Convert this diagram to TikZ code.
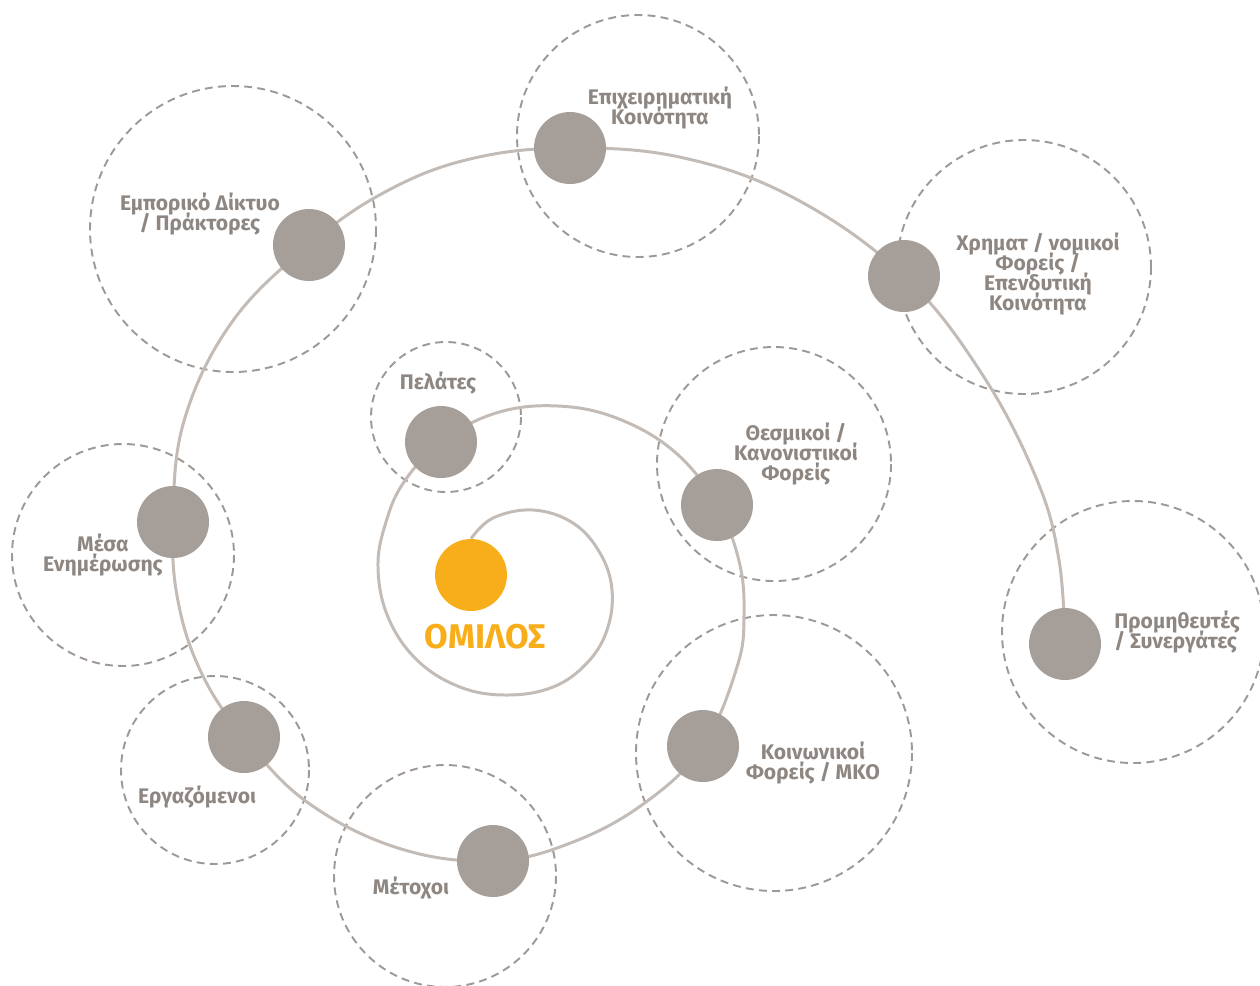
\documentclass[tikz,border=0pt]{standalone}
\usepackage{fontspec}
\setmainfont{Fira Sans}
\usetikzlibrary{positioning, backgrounds}

\definecolor{dotgray}{HTML}{A59E99}
\definecolor{linegray}{HTML}{C3BBB6}
\definecolor{zonegray}{HTML}{9F9995}
\definecolor{labelgray}{HTML}{8E8681}
\definecolor{groupyellow}{HTML}{F8AE1B}
\setlength{\lineskiplimit}{-6pt}

\begin{document}
\begin{tikzpicture}[x=0.02cm, y=-0.02cm,
    stake/.style={circle, fill=dotgray, minimum size=1.44cm, inner sep=0pt},
    core/.style={circle, fill=groupyellow, minimum size=1.44cm, inner sep=0pt},
    zone/.style={draw=zonegray, dash pattern=on 4.5pt off 3pt, line width=1.1pt},
    spiral/.style={draw=linegray, line width=1.7pt},
    tag/.style={text=labelgray, font=\bfseries\fontsize{12}{11.4}\selectfont, align=center, inner sep=0pt}
]
\useasboundingbox (0,0) rectangle (1260,985);

% Group (centre)
\node[core] (grp) at (471,575) {};

% Stakeholders along the spiral
\node[stake] (pel) at (441,442) {};
\node[stake] (the) at (717,505) {};
\node[stake] (koi) at (703,746) {};
\node[stake] (met) at (493,861) {};
\node[stake] (erg) at (244,737) {};
\node[stake] (mes) at (173,522) {};
\node[stake] (emp) at (309,245) {};
\node[stake] (epi) at (570,148) {};
\node[stake] (xrh) at (904,276) {};
\node[stake] (pro) at (1065,644) {};

% Points the spiral passes between the dots
% inner turn
\coordinate (a1) at (493,518);
\coordinate (a2) at (533,510);
\coordinate (a3) at (573,523);
\coordinate (a4) at (600,553);
\coordinate (a5) at (612,590);
\coordinate (a6) at (607,630);
\coordinate (a7) at (587,663);
\coordinate (a8) at (553,687);
\coordinate (a9) at (507,695);
\coordinate (a10) at (460,687);
\coordinate (a11) at (417,660);
\coordinate (a12) at (388,617);
\coordinate (a13) at (378,567);
\coordinate (a14) at (386,522);
\coordinate (a15) at (404,482);
% second turn
\coordinate (b1) at (496,413);
\coordinate (b2) at (558,406);
\coordinate (b3) at (619,419);
\coordinate (b4) at (676,453);
\coordinate (b5) at (739,561);
\coordinate (b6) at (744,615);
\coordinate (b7) at (737,667);
% outer turn
\coordinate (c1) at (646,802);
\coordinate (c2) at (573,842);
\coordinate (c3) at (398,848);
\coordinate (c4) at (307,802);
\coordinate (c5) at (202,674);
\coordinate (c6) at (178,601);
\coordinate (c7) at (184,421);
\coordinate (c8) at (232,322);
\coordinate (c9) at (385,192);
\coordinate (c10) at (470,159);
\coordinate (c11) at (684,158);
\coordinate (c12) at (796,199);
\coordinate (c13) at (982,374);
\coordinate (c14) at (1037,480);
\coordinate (c15) at (1059,560);

\begin{scope}[on background layer]
% Dashed zones round each stakeholder
\draw[zone] (446,417) circle[radius=75];
\draw[zone] (638,136) circle[radius=121];
\draw[zone] (233,229) circle[radius=143];
\draw[zone] (1024,267) circle[radius=127];
\draw[zone] (774,464) circle[radius=117];
\draw[zone] (123,555) circle[radius=111];
\draw[zone] (1133,632) circle[radius=131];
\draw[zone] (774,753) circle[radius=138];
\draw[zone] (215,770) circle[radius=94];
\draw[zone] (445,876) circle[radius=111];

% Spiral
\draw[spiral] plot[smooth, tension=0.65] coordinates {(grp.north) (a1) (a2)
    (a3) (a4) (a5) (a6) (a7) (a8) (a9) (a10) (a11) (a12) (a13) (a14) (a15)
    (pel) (b1) (b2) (b3) (b4) (the) (b5) (b6) (b7)
    (koi) (c1) (c2) (met) (c3) (c4) (erg) (c5) (c6) (mes) (c7) (c8) (emp)
    (c9) (c10) (epi) (c11) (c12) (xrh) (c13) (c14) (c15) (pro)};
\end{scope}

% Labels
\node[text=groupyellow, font=\bfseries\fontsize{19.5}{22}\selectfont, inner sep=0pt] (lgrp) at (485,637) {ΟΜΙΛΟΣ};
\node[tag] (lpel) at (438,383) {Πελάτες};
\node[tag] (lepi) at (660,108) {Επιχειρηματική\\Κοινότητα};
\node[tag] (lemp) at (200,214) {Εμπορικό Δίκτυο\\/ Πράκτορες};
\node[tag] (lxrh) at (1038,274) {Χρηματ / νομικοί\\Φορείς /\\Επενδυτική\\Κοινότητα};
\node[tag] (lthe) at (796,454) {Θεσμικοί /\\Κανονιστικοί\\Φορείς};
\node[tag] (lmes) at (103,555) {Μέσα\\Ενημέρωσης};
\node[tag, align=left, anchor=west] (lpro) at (1114,632) {Προμηθευτές\\/ Συνεργάτες};
\node[tag] (lkoi) at (813,763) {Κοινωνικοί\\Φορείς / ΜΚΟ};
\node[tag] (lerg) at (197,797) {Εργαζόμενοι};
\node[tag] (lmet) at (411,888) {Μέτοχοι};

\end{tikzpicture}
\end{document}
